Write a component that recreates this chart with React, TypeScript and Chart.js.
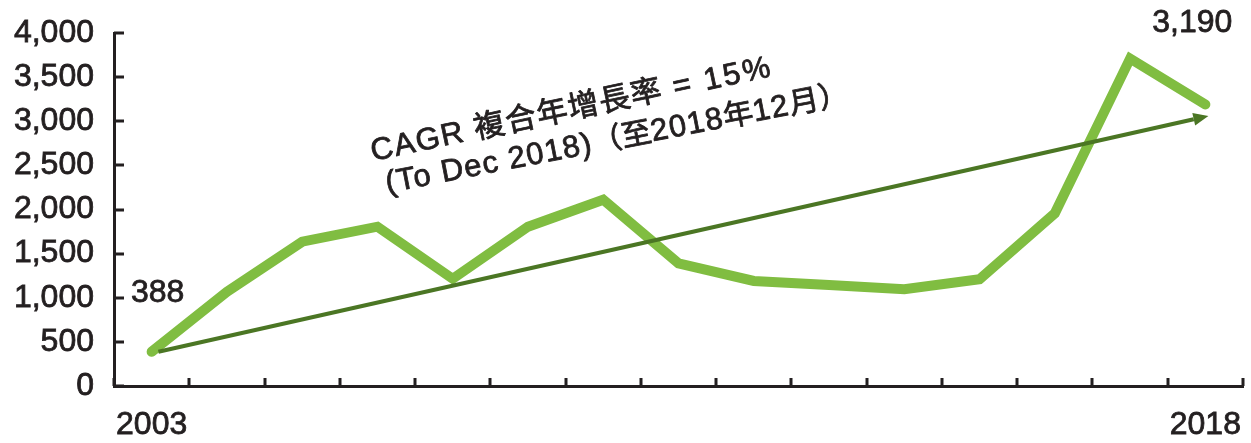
import React, { useEffect, useRef } from "react";
import { Chart, registerables } from "chart.js";

Chart.register(...registerables);

// ---- data ----
const categories = ["2003", "", "", "", "", "", "", "", "", "", "", "", "", "", "2018"];
const values = [388, 1068, 1635, 1805, 1215, 1805, 2110, 1390, 1190, 1145, 1096, 1209, 1957, 3710, 3190];
const yTickValues = [0, 500, 1000, 1500, 2000, 2500, 3000, 3500, 4000];
const trendStart = { x: 0.09, y: 388 };
const trendEnd = { x: 14.04, y: 3060 };
const firstValueLabel = "388";
const lastValueLabel = "3,190";
const cagrLine1 = [
  { t: "CAGR ", size: 31, ls: 1.5 },
  { t: "複合年增長率", size: 31, ls: 1 },
  { t: " = 15%", size: 31, ls: 2.5 },
];
const cagrLine2 = [
  { t: "(To Dec 2018)", size: 31, ls: 1.2 },
  { t: "（至", size: 30 },
  { t: "2018", size: 31, ls: 1.2 },
  { t: "年", size: 30 },
  { t: "12", size: 31, ls: 1.2 },
  { t: "月）", size: 30 },
];

const FONT = "'Liberation Sans', 'Noto Sans CJK TC', sans-serif";
const INK = "#231f20";
const LINE_GREEN = "#80bd41";
const ARROW_GREEN = "#4b7624";
const STROKE = 0.8;

function drawSegments(ctx: CanvasRenderingContext2D, segs: any[], x: number, y: number) {
  let cx = x;
  for (const s of segs) {
    ctx.font = `${s.size}px ${FONT}`;
    (ctx as any).letterSpacing = `${s.ls || 0}px`;
    ctx.strokeText(s.t, cx, y);
    ctx.fillText(s.t, cx, y);
    cx += ctx.measureText(s.t).width;
  }
  (ctx as any).letterSpacing = "0px";
}

const decorPlugin = {
  id: "decor",
  afterDatasetsDraw(chart: any) {
    const { ctx, chartArea, scales } = chart;
    const xs = scales.x;
    const ys = scales.y;
    ctx.save();
    // inward tick marks
    ctx.strokeStyle = INK;
    ctx.lineWidth = 3;
    ctx.beginPath();
    for (const v of yTickValues) {
      const py = Math.round(ys.getPixelForValue(v));
      ctx.moveTo(chartArea.left, py);
      ctx.lineTo(chartArea.left + 10, py);
    }
    for (let i = 0; i <= categories.length; i++) {
      const px = Math.round(xs.getPixelForValue(i - 0.5));
      ctx.moveTo(px, chartArea.bottom);
      ctx.lineTo(px, chartArea.bottom - 8);
    }
    ctx.stroke();

    // trend arrow
    const x0 = xs.getPixelForValue(trendStart.x);
    const y0 = ys.getPixelForValue(trendStart.y);
    const x1 = xs.getPixelForValue(trendEnd.x);
    const y1 = ys.getPixelForValue(trendEnd.y);
    const ang = Math.atan2(y1 - y0, x1 - x0);
    const headLen = 15;
    const headHalf = 6.5;
    ctx.strokeStyle = ARROW_GREEN;
    ctx.fillStyle = ARROW_GREEN;
    ctx.lineWidth = 4;
    ctx.beginPath();
    ctx.moveTo(x0, y0);
    ctx.lineTo(x1 - headLen * Math.cos(ang), y1 - headLen * Math.sin(ang));
    ctx.stroke();
    ctx.beginPath();
    ctx.moveTo(x1, y1);
    ctx.lineTo(
      x1 - headLen * Math.cos(ang) + headHalf * Math.sin(ang),
      y1 - headLen * Math.sin(ang) - headHalf * Math.cos(ang)
    );
    ctx.lineTo(
      x1 - headLen * Math.cos(ang) - headHalf * Math.sin(ang),
      y1 - headLen * Math.sin(ang) + headHalf * Math.cos(ang)
    );
    ctx.closePath();
    ctx.fill();

    // value labels
    ctx.fillStyle = INK;
    ctx.strokeStyle = INK;
    ctx.lineWidth = STROKE;
    ctx.lineJoin = "round";
    ctx.font = `32px ${FONT}`;
    ctx.textAlign = "center";
    ctx.textBaseline = "alphabetic";
    const fx = xs.getPixelForValue(0);
    const fy = ys.getPixelForValue(values[0]);
    ctx.strokeText(firstValueLabel, fx + 6, fy - 50);
    ctx.fillText(firstValueLabel, fx + 6, fy - 50);
    const lx = xs.getPixelForValue(values.length - 1);
    const ly = ys.getPixelForValue(values[values.length - 1]);
    ctx.strokeText(lastValueLabel, lx - 13, ly - 72);
    ctx.fillText(lastValueLabel, lx - 13, ly - 72);

    // CAGR annotation
    ctx.textAlign = "left";
    ctx.save();
    ctx.translate(chartArea.left + 259, chartArea.top + 128);
    ctx.rotate((-12 * Math.PI) / 180);
    drawSegments(ctx, cagrLine1, 0, 0);
    ctx.restore();
    ctx.save();
    ctx.translate(chartArea.left + 259, chartArea.top + 127);
    ctx.rotate((-11 * Math.PI) / 180);
    drawSegments(ctx, cagrLine2, 8, 35);
    ctx.restore();

    ctx.restore();
  },
};

function zeroPad(scale: any) {
  scale.paddingTop = 0;
  scale.paddingBottom = 0;
  scale.paddingLeft = 0;
  scale.paddingRight = 0;
}

export default function App() {
  const canvasRef = useRef<HTMLCanvasElement | null>(null);

  useEffect(() => {
    const canvas = canvasRef.current;
    if (!canvas) return;
    const chart = new Chart(canvas, {
      type: "line",
      data: {
        labels: categories,
        datasets: [
          {
            data: values,
            borderColor: LINE_GREEN,
            borderWidth: 10,
            borderCapStyle: "round",
            borderJoinStyle: "miter",
            pointRadius: 0,
            tension: 0,
            fill: false,
          },
        ],
      },
      options: {
        animation: false,
        responsive: true,
        maintainAspectRatio: false,
        layout: { padding: { top: 33, right: 8, left: 0, bottom: 0 } },
        plugins: {
          legend: { display: false },
          tooltip: { enabled: false },
        },
        scales: {
          x: {
            type: "category",
            offset: true,
            grid: { display: false, drawTicks: false },
            border: { display: true, color: INK, width: 3 },
            ticks: {
              autoSkip: false,
              maxRotation: 0,
              padding: 20,
              color: INK,
              textStrokeColor: INK,
              textStrokeWidth: STROKE,
              font: { family: FONT, size: 32 },
            },
            afterFit: (scale: any) => {
              scale.height = 57;
              zeroPad(scale);
            },
          },
          y: {
            min: 0,
            max: 4000,
            grid: { display: false, drawTicks: false },
            border: { display: true, color: INK, width: 3 },
            ticks: {
              stepSize: 500,
              padding: 20,
              color: INK,
              textStrokeColor: INK,
              textStrokeWidth: STROKE,
              font: { family: FONT, size: 32 },
            },
            afterFit: (scale: any) => {
              scale.width = 114;
              zeroPad(scale);
            },
          },
        },
      },
      plugins: [decorPlugin],
    } as any);
    return () => chart.destroy();
  }, []);

  return (
    <div style={{ position: "absolute", left: 0, top: 0, width: 1251, height: 443 }}>
      <canvas ref={canvasRef} />
    </div>
  );
}
